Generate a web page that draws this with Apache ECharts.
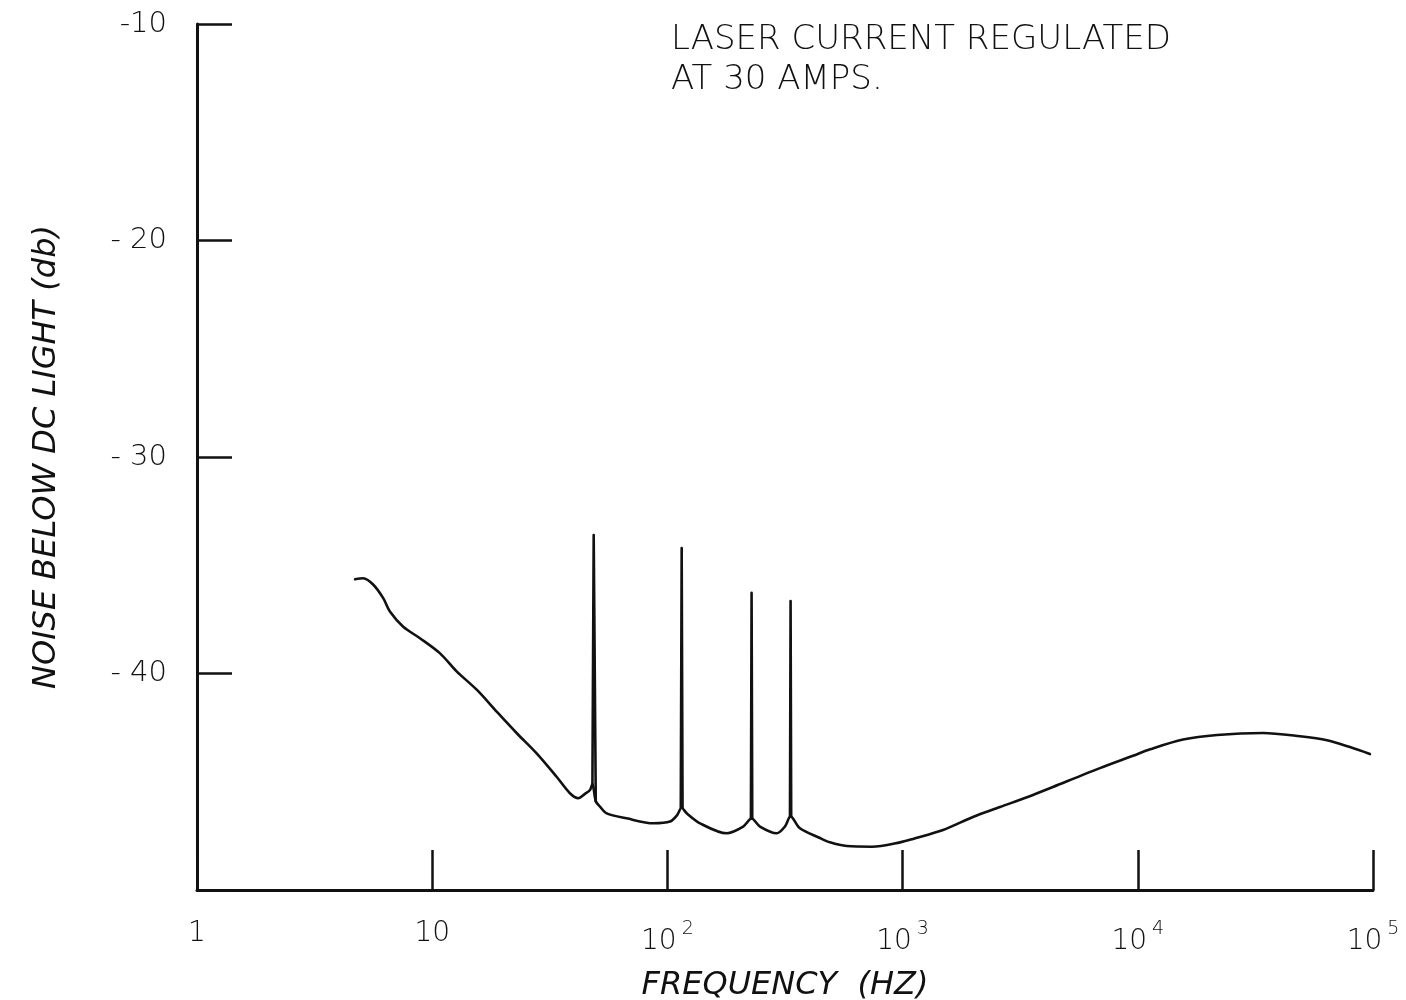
<!DOCTYPE html>
<html>
<head>
<meta charset="utf-8">
<title>Laser noise spectrum</title>
<script src="https://cdn.jsdelivr.net/npm/echarts@6/dist/echarts.min.js"></script>
<style>
  html, body { margin: 0; padding: 0; background: #fff; }
  #chart { width: 1406px; height: 1000px; }
</style>
</head>
<body>
<div id="chart"></div>
<script>
// Noise spectrum of the laser output, relative to the DC light level.
// Broadband noise floor: frequency in Hz (log axis), noise in dB.
const floorHz = [
  4.7, 5.09, 5.62, 6.2, 6.61, 7.53, 8.87, 10.8, 12.7, 15.5, 18.8, 22.9, 27.8, 33.8, 38.5, 41.8, 44.5, 46.9, 48.0,
  49.6, 51.7, 55.2, 67.1, 87.1, 102.6, 110, 114.9, 120.8, 137.6, 178.6, 210, 228, 247.5, 291.7, 316, 334, 366, 445,
  491, 580, 741, 975, 1107, 1485, 1991, 2594, 3583, 4357, 6902, 9544, 11280, 15570, 21720, 34060, 48930, 63740, 79800, 97050
];
const floorDb = [
  -35.65, -35.6, -35.9, -36.53, -37.14, -37.84, -38.37, -39.07, -39.9, -40.76, -41.76, -42.76, -43.69, -44.77, -45.53, -45.76, -45.57, -45.38, -45.1,
  -45.9, -46.15, -46.46, -46.69, -46.92, -46.84, -46.54, -46.2, -46.46, -46.92, -47.38, -47.07, -46.7, -47.07, -47.38, -47.07, -46.6, -47.15, -47.6,
  -47.8, -47.97, -48.0, -47.8, -47.64, -47.23, -46.63, -46.17, -45.61, -45.24, -44.37, -43.8, -43.5, -43.05, -42.84, -42.75, -42.9, -43.08, -43.4, -43.72
];

// Discrete pickup lines standing on the noise floor
const spikeHz = [48.6, 115.0, 228, 334];
const spikePeakDb = [-33.6, -34.2, -36.27, -36.65];
const spikeFootLeftHz = [48.0, 114.0, 226.5, 332];
const spikeFootRightHz = [49.6, 116.0, 229.5, 336];
const spikeFootLeftDb = [-45.1, -46.2, -46.7, -46.6];
const spikeFootRightDb = [-45.9, -46.2, -46.7, -46.6];

// Axis tick labels
const xTickValues = [1, 10, 100, 1000, 10000, 100000];
const xTickLabels = ['1', '10', '10{sup|2}', '10{sup|3}', '10{sup|4}', '10{sup|5}'];
const yTickValues = [-10, -20, -30, -40, -50];
const yTickLabels = ['-10', '- 20', '- 30', '- 40', ''];

const noteLines = ['LASER CURRENT REGULATED', 'AT 30 AMPS.'];
const xAxisTitle = 'FREQUENCY  (HZ)';
const yAxisTitle = 'NOISE BELOW DC LIGHT (db)';

const FONT = 'DejaVu Sans';
const INK = '#111';

// Spike outlines: foot, peak, foot, then a gap before the next one
const spikeData = [];
spikeHz.forEach((f, i) => {
  spikeData.push([spikeFootLeftHz[i], spikeFootLeftDb[i]]);
  spikeData.push([f, spikePeakDb[i]]);
  spikeData.push([spikeFootRightHz[i], spikeFootRightDb[i]]);
  spikeData.push([f, '-']);
});

const chart = echarts.init(document.getElementById('chart'), null, { renderer: 'canvas' });

chart.setOption({
  backgroundColor: '#ffffff',
  animation: false,
  title: {
    text: noteLines.join('\n'),
    left: 666,
    top: 15,
    textStyle: {
      fontFamily: FONT,
      fontWeight: 200,
      fontSize: 34,
      lineHeight: 40,
      color: INK
    }
  },
  grid: { left: 197, right: 33, top: 24, bottom: 110, containLabel: false, outerBoundsMode: 'none' },
  xAxis: {
    type: 'log',
    logBase: 10,
    min: 1,
    max: 100000,
    name: xAxisTitle,
    nameLocation: 'middle',
    nameGap: 80,
    nameTextStyle: {
      fontFamily: FONT,
      fontStyle: 'italic',
      fontWeight: 200,
      fontSize: 32,
      color: INK
    },
    axisLine: { show: true, lineStyle: { color: INK, width: 3 } },
    axisTick: { show: true, inside: true, length: 40, lineStyle: { color: INK, width: 2.5 } },
    splitLine: { show: false },
    axisLabel: {
      margin: 30,
      fontFamily: FONT,
      fontWeight: 200,
      fontSize: 28,
      color: INK,
      formatter: function (v) {
        const i = xTickValues.findIndex(t => Math.abs(Math.log10(t) - Math.log10(v)) < 1e-6);
        return i >= 0 ? xTickLabels[i] : '';
      },
      rich: {
        sup: { fontFamily: FONT, fontWeight: 200, fontSize: 19, color: INK, verticalAlign: 'top', padding: [0, 0, 24, 5] }
      }
    }
  },
  yAxis: {
    type: 'value',
    min: -50,
    max: -10,
    interval: 10,
    name: yAxisTitle,
    nameLocation: 'middle',
    nameGap: 134,
    nameTextStyle: {
      fontFamily: FONT,
      fontStyle: 'italic',
      fontWeight: 200,
      fontSize: 32,
      color: INK
    },
    axisLine: { show: true, lineStyle: { color: INK, width: 3 } },
    axisTick: { show: true, inside: true, length: 35, lineStyle: { color: INK, width: 2.5 } },
    splitLine: { show: false },
    axisLabel: {
      margin: 30,
      fontFamily: FONT,
      fontWeight: 200,
      fontSize: 29,
      color: INK,
      formatter: function (v) {
        const i = yTickValues.indexOf(v);
        return i >= 0 ? yTickLabels[i] : '';
      }
    }
  },
  series: [
    {
      name: 'noise floor',
      type: 'line',
      data: floorHz.map((f, i) => [f, floorDb[i]]),
      showSymbol: false,
      smooth: 0.3,
      lineStyle: { color: INK, width: 2.6, join: 'round', cap: 'round' },
      z: 3
    },
    {
      name: 'pickup lines',
      type: 'line',
      data: spikeData,
      connectNulls: false,
      showSymbol: false,
      smooth: false,
      lineStyle: { color: INK, width: 2.6, join: 'round', cap: 'round' },
      z: 4
    }
  ]
});
</script>
</body>
</html>
